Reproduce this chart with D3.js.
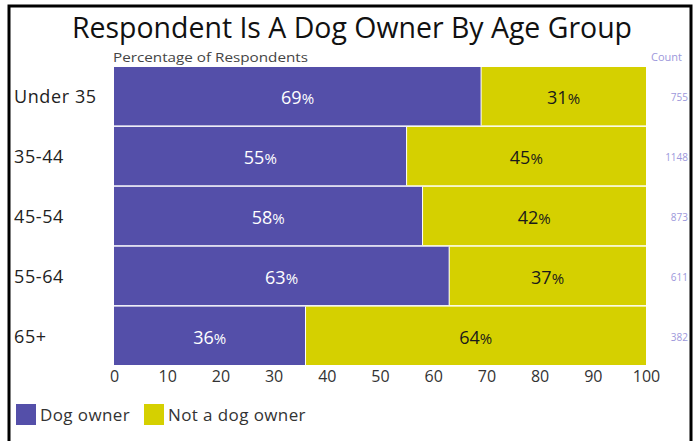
<!DOCTYPE html>
<html><head><meta charset="utf-8">
<script src="https://cdn.jsdelivr.net/npm/d3@7"></script>
<style>
html,body{margin:0;padding:0;background:#fff;}
svg{display:block;font-family:"Open Sans","Noto Sans",sans-serif;}
</style></head>
<body>
<svg id="chart" width="700" height="441"></svg>
<script>
const categories = ["Under 35", "35-44", "45-54", "55-64", "65+"];
const dogOwner = [69, 55, 58, 63, 36];
const notDogOwner = [31, 45, 42, 37, 64];
const counts = [755, 1148, 873, 611, 382];
const xTicks = [0, 10, 20, 30, 40, 50, 60, 70, 80, 90, 100];
const seriesNames = ["Dog owner", "Not a dog owner"];
const colors = ["#544fa9", "#d5d000"];
const textColors = ["#ffffff", "#1a1a1a"];

const svg = d3.select("#chart");
const x = d3.scaleLinear().domain([0, 100]).range([114, 646]);
const y = d3.scaleBand().domain(categories).range([67, 365]).paddingInner(0.025);

// frame
svg.append("rect").attr("x", 9).attr("y", 6).attr("width", 682).attr("height", 460)
  .attr("fill", "none").attr("stroke", "#000").attr("stroke-width", 3);

// title
svg.append("text").attr("x", 352).attr("y", 38).attr("text-anchor", "middle")
  .attr("font-size", 30).attr("fill", "#111").attr("font-weight", 500)
  .attr("textLength", 560).attr("lengthAdjust", "spacingAndGlyphs")
  .text("Respondent Is A Dog Owner By Age Group");

svg.append("text").attr("x", 113).attr("y", 62).attr("font-size", 13).attr("fill", "#444")
  .attr("textLength", 195).attr("lengthAdjust", "spacingAndGlyphs")
  .text("Percentage of Respondents");

svg.append("text").attr("x", 651).attr("y", 61).attr("font-size", 11).attr("fill", "#9d98db")
  .text("Count");

const rows = categories.map((c, i) => ({c, vals: [dogOwner[i], notDogOwner[i]], n: counts[i]}));
const stacked = d3.stack().keys([0, 1]).value((d, k) => d.vals[k])(rows);

stacked.forEach((layer, k) => {
  const g = svg.append("g");
  layer.forEach(seg => {
    const cy = y(seg.data.c);
    g.append("rect").attr("x", x(seg[0])).attr("y", cy)
      .attr("width", x(seg[1]) - x(seg[0])).attr("height", y.bandwidth())
      .attr("fill", colors[k]);
  });
  layer.forEach(seg => {
    const cy = y(seg.data.c) + y.bandwidth() / 2;
    const t = svg.append("text").attr("x", (x(seg[0]) + x(seg[1])) / 2).attr("y", cy + 8)
      .attr("text-anchor", "middle").attr("fill", textColors[k]).attr("font-size", 18)
      .attr("font-weight", 500);
    t.append("tspan").text(seg.data.vals[k]);
    t.append("tspan").attr("font-size", 15).text("%");
  });
});
// separators between segments
rows.forEach(r => {
  svg.append("line").attr("x1", x(r.vals[0])).attr("x2", x(r.vals[0]))
    .attr("y1", y(r.c)).attr("y2", y(r.c) + y.bandwidth())
    .attr("stroke", "#fff").attr("stroke-width", 1);
});

// category labels
svg.append("g").selectAll("text").data(categories).join("text")
  .attr("x", 14).attr("y", d => y(d) + y.bandwidth() / 2 + 7)
  .attr("font-size", 18).attr("letter-spacing", 0.6).attr("fill", "#222").text(d => d);

// counts
svg.append("g").selectAll("text").data(rows).join("text")
  .attr("x", 688).attr("y", d => y(d.c) + y.bandwidth() / 2 + 5)
  .attr("text-anchor", "end").attr("font-size", 10).attr("fill", "#9d98db")
  .text(d => d.n);

// x axis
const xAxis = d3.axisBottom(x).tickValues(xTicks).tickSize(0).tickPadding(0);
const ax = svg.append("g").attr("transform", "translate(0,371)").call(xAxis);
ax.select(".domain").remove();
ax.selectAll("text").attr("font-size", 16).attr("fill", "#333")
  .attr("font-family", "'Open Sans','Noto Sans',sans-serif");

// legend
const leg = svg.append("g");
const legX = [16, 144];
seriesNames.forEach((s, i) => {
  leg.append("rect").attr("x", legX[i]).attr("y", 404).attr("width", 20).attr("height", 21)
    .attr("fill", colors[i]);
  leg.append("text").attr("x", legX[i] + 24).attr("y", 421).attr("font-size", 17)
    .attr("letter-spacing", 0.4).attr("fill", "#333").text(s);
});
</script>
</body></html>
